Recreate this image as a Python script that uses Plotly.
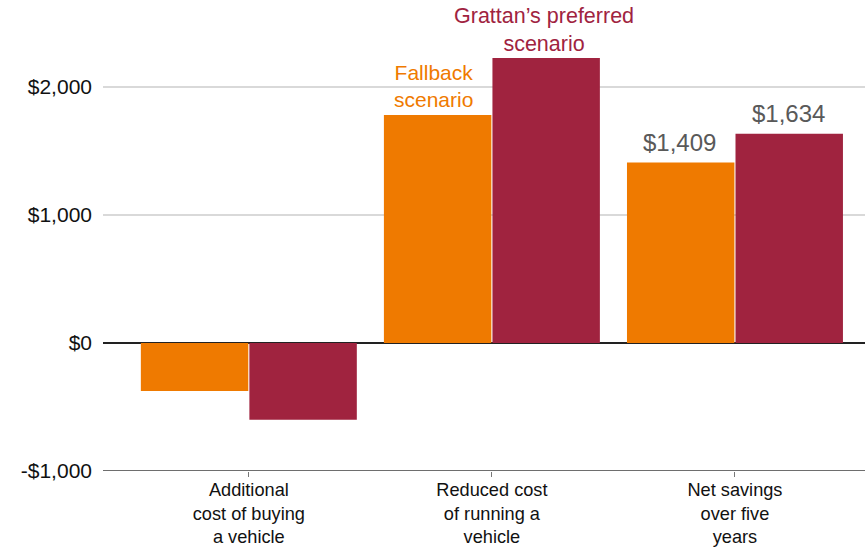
import plotly.graph_objects as go

categories = ["Additional<br>cost of buying<br>a vehicle", "Reduced cost<br>of running a<br>vehicle", "Net savings<br>over five<br>years"]
fallback = [-375, 1780, 1409]
preferred = [-600, 2225, 1634]
tick_vals = [-1000, 0, 1000, 2000]
tick_text = ["-$1,000", "$0", "$1,000", "$2,000"]

ORANGE = "#EF7A00"
RED = "#A0233F"
FONT = "Liberation Sans, Arial, sans-serif"

fig = go.Figure()
fig.add_trace(go.Bar(x=[0, 1, 2], y=fallback, name="Fallback scenario",
                     marker=dict(color=ORANGE, line=dict(width=0))))
fig.add_trace(go.Bar(x=[0, 1, 2], y=preferred, name="Grattan's preferred scenario",
                     marker=dict(color=RED, line=dict(width=0))))

# value labels for net savings
fig.add_annotation(x=2, xref="x", xshift=-55, y=fallback[2], yanchor="bottom", yshift=5,
                   text="$1,409", showarrow=False, font=dict(family=FONT, size=24, color="#595959"))
fig.add_annotation(x=2, xref="x", xshift=54, y=preferred[2], yanchor="bottom", yshift=5,
                   text="$1,634", showarrow=False, font=dict(family=FONT, size=24, color="#595959"))
# series labels
fig.add_annotation(x=1, xref="x", xshift=-58, y=fallback[1], yanchor="bottom", yshift=2,
                   text="Fallback<br>scenario", showarrow=False,
                   font=dict(family=FONT, size=21, color=ORANGE))
fig.add_annotation(x=1, xref="x", xshift=52, y=preferred[1], yanchor="bottom", yshift=0,
                   text="Grattan’s preferred<br>scenario", showarrow=False,
                   font=dict(family=FONT, size=21.5, color=RED))

fig.update_layout(
    width=865, height=547,
    margin=dict(l=103, r=0, t=10, b=76),
    paper_bgcolor="white", plot_bgcolor="white",
    showlegend=False,
    barmode="group", bargap=0.107, bargroupgap=0.01,
    font=dict(family=FONT, size=18, color="#000000"),
    xaxis=dict(range=[-0.6, 2.535], tickmode="array", tickvals=[0, 1, 2], ticktext=categories,
               ticks="outside", ticklen=5, tickcolor="#777777", tickwidth=1,
               showgrid=False, zeroline=False, showline=False, ticklabelstandoff=-3,
               automargin=False,
               tickfont=dict(family=FONT, size=18.2, color="#111111")),
    yaxis=dict(range=[-1000, 2600], tickmode="array", tickvals=tick_vals, ticktext=tick_text,
               showgrid=True, gridcolor="#D9D9D9", gridwidth=1.5,
               zeroline=True, zerolinecolor="#222222", zerolinewidth=1.5,
               showline=False, ticks="", ticklabelstandoff=10, automargin=False,
               tickfont=dict(family=FONT, size=21, color="#111111")),
)
# bottom axis line at -1000 (darker than gridlines)
fig.add_shape(type="line", xref="paper", yref="y", x0=0, x1=1, y0=-1000, y1=-1000,
              line=dict(color="#6E6E6E", width=2), layer="above")

fig.write_html("out.html")
